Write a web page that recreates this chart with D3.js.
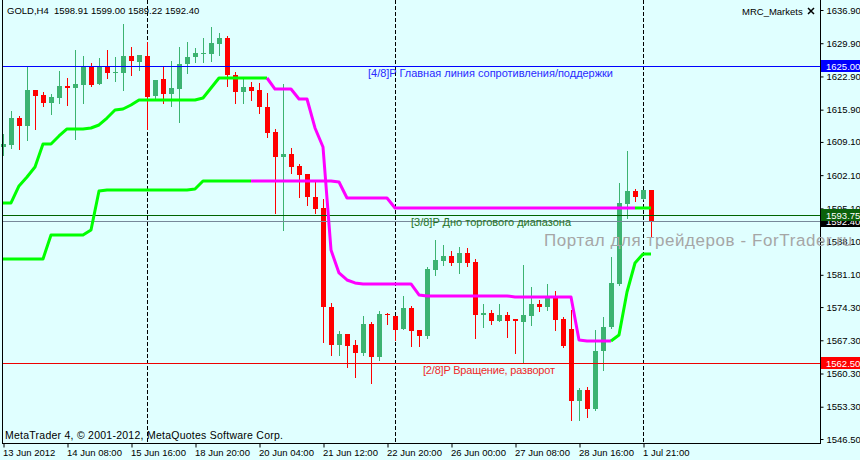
<!DOCTYPE html>
<html>
<head>
<meta charset="utf-8">
<script src="https://cdn.jsdelivr.net/npm/d3@7"></script>
<style>
  body { margin: 0; background: #e0ffff; }
  svg { display: block; font-family: 'Liberation Sans', Arial, sans-serif; }
</style>
</head>
<body>
<div class="workspace"></div>
<script>
const symbolTitle = 'GOLD,H4';
const timeLabels = ['13 Jun 2012', '14 Jun 08:00', '15 Jun 16:00', '18 Jun 20:00', '20 Jun 04:00',
  '21 Jun 12:00', '22 Jun 20:00', '26 Jun 00:00', '27 Jun 08:00', '28 Jun 16:00', '1 Jul 21:00'];
const timeTickBars = [0, 8, 16, 24, 32, 40, 48, 56, 64, 72, 80];
const separatorBars = [18, 49, 80];
const priceTicks = [1636.90, 1629.90, 1622.90, 1615.90, 1609.10, 1602.10, 1595.10, 1588.10,
  1581.10, 1574.30, 1567.30, 1560.30, 1553.30, 1546.50];

const openPrices = [1608.03, 1608.46, 1614.14, 1612.46, 1620.04, 1618.99, 1617.31, 1618.36, 1620.89, 1620.47,
  1621.10, 1624.89, 1621.31, 1624.89, 1623.73, 1623.63, 1627.21, 1625.94, 1627.21, 1618.78,
  1622.36, 1619.20, 1620.25, 1625.52, 1627.00, 1627.73, 1627.63, 1629.74, 1631.00, 1623.20,
  1619.62, 1620.68, 1620.04, 1616.46, 1611.20, 1605.93, 1606.56, 1604.03, 1602.35, 1597.50,
  1595.18, 1574.32, 1566.32, 1568.63, 1566.32, 1564.63, 1570.74, 1563.79, 1572.85, 1572.43,
  1569.69, 1574.11, 1569.48, 1568.21, 1582.12, 1584.01, 1585.07, 1583.59, 1585.70, 1583.80,
  1572.64, 1573.06, 1571.37, 1572.64, 1571.79, 1571.16, 1572.43, 1574.95, 1574.32, 1576.43,
  1571.79, 1569.69, 1554.52, 1556.83, 1552.83, 1565.05, 1570.11, 1579.17, 1596.02, 1598.76,
  1597.08, 1598.91];
const highPrices = [1610.77, 1615.62, 1614.57, 1624.89, 1620.04, 1619.62, 1619.20, 1624.05, 1622.57, 1628.47,
  1627.21, 1625.73, 1626.79, 1628.47, 1627.00, 1633.95, 1629.10, 1627.42, 1630.16, 1622.15,
  1625.10, 1626.15, 1629.10, 1630.16, 1628.89, 1631.00, 1633.32, 1632.05, 1631.42, 1623.84,
  1622.78, 1621.73, 1621.52, 1619.41, 1611.83, 1621.31, 1607.82, 1604.45, 1602.35, 1600.87,
  1597.08, 1575.17, 1569.27, 1568.63, 1567.37, 1572.43, 1571.16, 1573.48, 1573.06, 1572.43,
  1576.64, 1574.53, 1569.48, 1582.75, 1588.44, 1587.39, 1586.12, 1586.96, 1586.75, 1584.44,
  1574.95, 1573.69, 1574.95, 1573.27, 1571.79, 1583.17, 1578.54, 1575.80, 1579.17, 1577.69,
  1572.22, 1573.69, 1557.26, 1557.47, 1569.48, 1572.22, 1584.86, 1600.45, 1607.19, 1599.19,
  1598.97, 1599.00];
const lowPrices = [1606.35, 1607.82, 1607.61, 1609.51, 1611.83, 1616.67, 1614.99, 1617.31, 1616.88, 1609.72,
  1617.31, 1620.89, 1621.31, 1622.57, 1621.94, 1620.04, 1623.20, 1624.26, 1611.83, 1617.94,
  1617.31, 1616.67, 1613.30, 1623.63, 1625.94, 1625.94, 1626.15, 1627.42, 1620.89, 1617.31,
  1617.31, 1617.94, 1615.20, 1610.14, 1594.13, 1590.55, 1602.56, 1597.50, 1595.81, 1594.13,
  1566.95, 1564.21, 1564.21, 1561.68, 1559.57, 1564.21, 1558.31, 1563.16, 1570.74, 1567.37,
  1569.69, 1566.10, 1566.10, 1567.79, 1581.06, 1583.17, 1583.17, 1581.49, 1582.96, 1567.79,
  1570.11, 1570.74, 1571.37, 1568.00, 1564.63, 1562.52, 1570.53, 1573.48, 1573.69, 1569.48,
  1565.89, 1550.51, 1550.51, 1551.15, 1552.62, 1561.05, 1569.90, 1578.96, 1593.07, 1596.66,
  1597.08, 1589.22];
const closePrices = [1608.67, 1614.14, 1612.46, 1620.04, 1618.78, 1617.31, 1618.57, 1620.89, 1620.47, 1621.31,
  1624.89, 1621.10, 1624.89, 1623.63, 1623.84, 1627.21, 1626.15, 1627.42, 1618.57, 1622.15,
  1619.20, 1620.47, 1625.52, 1627.00, 1627.84, 1627.84, 1629.95, 1631.00, 1623.20, 1619.62,
  1620.68, 1619.83, 1616.46, 1610.98, 1605.93, 1606.56, 1603.82, 1602.13, 1597.50, 1594.97,
  1574.32, 1566.32, 1568.63, 1566.10, 1564.63, 1570.74, 1563.79, 1572.85, 1572.53, 1569.48,
  1574.11, 1569.27, 1568.21, 1582.33, 1584.23, 1585.07, 1583.59, 1585.70, 1583.59, 1572.64,
  1573.06, 1571.37, 1572.64, 1571.37, 1571.37, 1572.64, 1574.95, 1574.32, 1576.43, 1571.58,
  1566.10, 1554.52, 1556.83, 1552.83, 1565.05, 1570.11, 1579.38, 1596.24, 1598.76, 1597.50,
  1598.97, 1592.40];

// MRC channel lines, one value per bar
const upperBand = [1596.24, 1596.24, 1599.82, 1601.71, 1603.82, 1608.67, 1608.67, 1610.35, 1611.83, 1611.83,
  1611.83, 1612.04, 1612.67, 1614.14, 1615.83, 1616.04, 1616.88, 1617.94, 1617.94, 1617.94,
  1617.94, 1617.94, 1617.94, 1617.94, 1617.94, 1618.36, 1620.47, 1622.57, 1622.57, 1622.57,
  1622.57, 1622.57, 1622.57, 1622.57, 1620.25, 1620.25, 1620.25, 1618.15, 1618.15, 1612.04,
  1608.03, 1586.33, 1581.49, 1580.01, 1579.38, 1579.17, 1579.17, 1579.17, 1579.17, 1579.17,
  1579.17, 1579.17, 1576.85, 1576.64, 1576.64, 1576.64, 1576.64, 1576.64, 1576.64, 1576.64,
  1576.64, 1576.64, 1576.64, 1576.64, 1576.43, 1576.43, 1576.43, 1576.43, 1576.43, 1576.43,
  1576.43, 1576.43, 1567.37, 1567.16, 1567.16, 1567.16, 1567.16, 1568.42, 1577.48, 1583.59,
  1585.49, 1585.49];
const lowerBand = [1584.44, 1584.44, 1584.44, 1584.44, 1584.44, 1584.44, 1589.49, 1589.49, 1589.49, 1589.49,
  1589.49, 1590.55, 1598.76, 1598.97, 1598.97, 1598.97, 1598.97, 1598.97, 1598.97, 1598.97,
  1598.97, 1598.97, 1598.97, 1598.97, 1599.19, 1600.87, 1600.87, 1600.87, 1600.87, 1600.87,
  1600.87, 1600.87, 1600.87, 1600.87, 1600.87, 1600.87, 1600.87, 1600.87, 1600.87, 1600.87,
  1600.87, 1600.87, 1600.66, 1597.29, 1597.29, 1597.29, 1597.29, 1597.29, 1597.29, 1595.18,
  1595.18, 1595.18, 1595.18, 1595.18, 1595.18, 1595.18, 1595.18, 1595.18, 1595.18, 1595.18,
  1595.18, 1595.18, 1595.18, 1595.18, 1595.18, 1595.18, 1595.18, 1595.18, 1595.18, 1595.18,
  1595.18, 1595.18, 1595.18, 1595.18, 1595.18, 1595.18, 1595.18, 1595.18, 1595.18, 1595.18,
  1595.18, 1595.18];
// bars where the band is in its falling (magenta) state
const upperFallingRange = [33, 76];
const lowerFallingRange = [31, 79];

const levelPrices = [1625.00, 1562.50];
const levelTexts = ['[4/8]P Главная линия сопротивления/поддержки', '[2/8]P Вращение, разворот'];
const rangePrice = 1593.75;
const rangeText = '[3/8]P Дно торгового диапазона';
const bidPrice = 1592.40;

const width = 860;
const height = 460;
const plotRight = 820;
const plotBottom = 443;

const svg = d3
  .select('.workspace')
  .append('svg')
  .attr('width', width)
  .attr('height', height)
  .attr('viewBox', `0 0 ${width} ${height}`);

svg.append('rect').attr('width', width).attr('height', height).style('fill', '#e0ffff');

const x = d3.scaleLinear().domain([0, 81]).range([3, 651]);
const y = d3.scaleLinear().domain([1546.5, 1636.9]).range([439, 10]);
const px = (i) => Math.round(x(i));
const py = (v) => Math.round(y(v));

// fit a text to a given width by scaling its font size
function fitText(sel, targetWidth) {
  const w = sel.node().getComputedTextLength();
  const size = parseFloat(sel.style('font-size'));
  sel.style('font-size', `${(size * targetWidth) / w}px`);
}

// period separators
svg
  .selectAll('.sep')
  .data(separatorBars)
  .enter()
  .append('line')
  .attr('x1', (d) => px(d) + 0.5)
  .attr('x2', (d) => px(d) + 0.5)
  .attr('y1', 0)
  .attr('y2', plotBottom)
  .style('stroke', '#000')
  .style('stroke-dasharray', '4,2');

// candles
const bars = d3.range(openPrices.length);
const upColor = '#3cb371';
const downColor = '#ff0000';
const candle = svg.append('g').style('shape-rendering', 'crispEdges');
candle
  .selectAll('line')
  .data(bars)
  .enter()
  .append('line')
  .attr('x1', (i) => px(i) + 0.5)
  .attr('x2', (i) => px(i) + 0.5)
  .attr('y1', (i) => py(highPrices[i]))
  .attr('y2', (i) => py(lowPrices[i]) + 1)
  .style('stroke', (i) => (closePrices[i] >= openPrices[i] ? upColor : downColor));
candle
  .selectAll('rect')
  .data(bars)
  .enter()
  .append('rect')
  .attr('x', (i) => px(i) - 2)
  .attr('width', 5)
  .attr('y', (i) => Math.min(py(openPrices[i]), py(closePrices[i])))
  .attr('height', (i) => Math.max(1, Math.abs(py(openPrices[i]) - py(closePrices[i]))))
  .style('fill', (i) => (closePrices[i] >= openPrices[i] ? upColor : downColor));

// horizontal levels
const levelColors = ['#0000ff', '#ee0000'];
svg
  .selectAll('.level')
  .data(levelPrices)
  .enter()
  .append('line')
  .attr('x1', 2)
  .attr('x2', plotRight)
  .attr('y1', (d) => py(d) + 0.5)
  .attr('y2', (d) => py(d) + 0.5)
  .style('stroke', (d, i) => levelColors[i]);
svg
  .append('line')
  .attr('x1', 2)
  .attr('x2', plotRight)
  .attr('y1', py(rangePrice) + 0.5)
  .attr('y2', py(rangePrice) + 0.5)
  .style('stroke', '#006400');
svg
  .append('line')
  .attr('x1', 2)
  .attr('x2', plotRight)
  .attr('y1', py(bidPrice) + 0.5)
  .attr('y2', py(bidPrice) + 0.5)
  .style('stroke', '#778899');

// channel bands
function drawBand(values, fallingRange) {
  const line = d3
    .line()
    .x((d) => x(d))
    .y((d) => y(values[d]));
  const parts = [
    { idx: d3.range(0, fallingRange[0] + 1), color: '#00ff00' },
    { idx: d3.range(fallingRange[0], fallingRange[1] + 1), color: '#ff00ff' },
    { idx: d3.range(fallingRange[1], values.length), color: '#00ff00' },
  ];
  parts.forEach((p) => {
    svg
      .append('path')
      .attr('d', line(p.idx))
      .style('fill', 'none')
      .style('stroke', p.color)
      .style('stroke-width', 3)
      .style('stroke-linejoin', 'round');
  });
}
drawBand(upperBand, upperFallingRange);
drawBand(lowerBand, lowerFallingRange);

// level captions
svg
  .append('text')
  .attr('x', 368)
  .attr('y', py(levelPrices[0]) + 11)
  .attr('textLength', 245)
  .attr('lengthAdjust', 'spacing')
  .style('font-size', '11px')
  .style('fill', '#2a2aff')
  .text(levelTexts[0]);
svg
  .append('text')
  .attr('x', 411)
  .attr('y', py(rangePrice) + 11)
  .attr('textLength', 160)
  .attr('lengthAdjust', 'spacing')
  .style('font-size', '11px')
  .style('fill', '#267326')
  .text(rangeText);
svg
  .append('text')
  .attr('x', 423)
  .attr('y', py(levelPrices[1]) + 11)
  .attr('textLength', 132)
  .attr('lengthAdjust', 'spacing')
  .style('font-size', '11px')
  .style('fill', '#ee2a2a')
  .text(levelTexts[1]);

// frame
svg.append('line').attr('x1', 2.5).attr('x2', 2.5).attr('y1', 0).attr('y2', plotBottom).style('stroke', '#000');

// price axis
const yAxis = svg
  .append('g')
  .attr('transform', `translate(${plotRight + 0.5},0)`)
  .call(d3.axisRight(y).tickValues(priceTicks).tickSize(3).tickPadding(3).tickFormat(d3.format('.2f')));
yAxis.select('.domain').remove();
yAxis.selectAll('text').style('font-size', '9.5px').style('font-family', "'Liberation Sans', Arial, sans-serif");
svg
  .append('line')
  .attr('x1', plotRight + 0.5)
  .attr('x2', plotRight + 0.5)
  .attr('y1', 0)
  .attr('y2', plotBottom + 1)
  .style('stroke', '#000');

// time axis
const xAxis = svg
  .append('g')
  .attr('transform', `translate(0.5,${plotBottom + 0.5})`)
  .call(
    d3
      .axisBottom(x)
      .tickValues(timeTickBars)
      .tickSize(4)
      .tickPadding(2)
      .tickFormat((d, i) => timeLabels[i])
  );
xAxis.select('.domain').remove();
xAxis
  .selectAll('text')
  .attr('text-anchor', 'start')
  .attr('x', -1)
  .style('font-size', '9.5px')
  .style('font-family', "'Liberation Sans', Arial, sans-serif");
svg
  .append('line')
  .attr('x1', 2)
  .attr('x2', plotRight + 1)
  .attr('y1', plotBottom + 0.5)
  .attr('y2', plotBottom + 0.5)
  .style('stroke', '#000');

// price boxes on the axis
const boxes = [
  { price: levelPrices[0], color: '#0000ff' },
  { price: levelPrices[1], color: '#ff0000' },
  { price: bidPrice, color: '#000000' },
  { price: rangePrice, color: '#0b620b' },
];
boxes.forEach((b) => {
  svg
    .append('rect')
    .attr('x', plotRight + 1)
    .attr('y', py(b.price) - 6)
    .attr('width', 40)
    .attr('height', 12)
    .style('fill', b.color);
  svg
    .append('text')
    .attr('x', plotRight + 6)
    .attr('y', py(b.price) + 4)
    .style('font-size', '9.5px')
    .style('fill', '#fff')
    .text(d3.format('.2f')(b.price));
});

// watermark
const watermark = svg
  .append('text')
  .attr('x', 544)
  .attr('y', 246)
  .style('font-size', '17px')
  .style('letter-spacing', '0.6px')
  .style('fill', '#a6a6a6')
  .text('Портал для трейдеров - ForTrader.ru');
fitText(watermark, 309);

// header and footer
const last = openPrices.length - 1;
svg
  .append('text')
  .attr('x', 7)
  .attr('y', 14)
  .attr('xml:space', 'preserve')
  .style('font-size', '9.5px')
  .style('fill', '#000')
  .text(
    `${symbolTitle}  ${[openPrices[last], highPrices[last], lowPrices[last], closePrices[last]]
      .map(d3.format('.2f'))
      .join(' ')}`
  );
svg
  .append('text')
  .attr('x', 742)
  .attr('y', 15)
  .style('font-size', '9.5px')
  .style('fill', '#000')
  .text('MRC_Markets');
svg
  .append('path')
  .attr('d', 'M808,8 L814,14 M814,8 L808,14')
  .style('stroke', '#000')
  .style('stroke-width', 1.5);
svg
  .append('text')
  .attr('x', 5)
  .attr('y', 439)
  .attr('textLength', 278)
  .attr('lengthAdjust', 'spacing')
  .style('font-size', '10.5px')
  .style('fill', '#000')
  .text('MetaTrader 4, © 2001-2012, MetaQuotes Software Corp.');
</script>
</body>
</html>
